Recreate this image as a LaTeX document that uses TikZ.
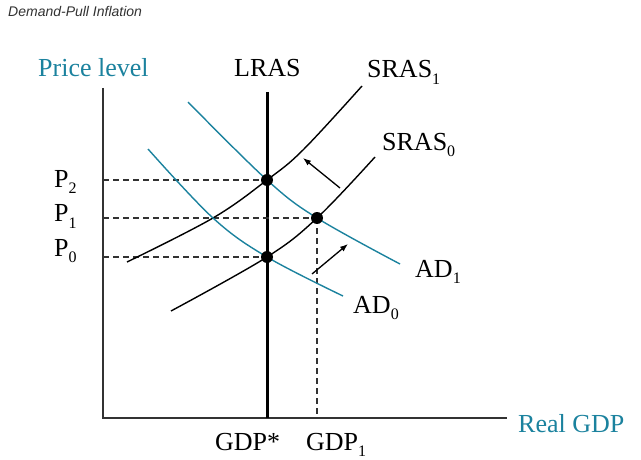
\documentclass[tikz,border=0pt]{standalone}
\usepackage{fontspec}
\setmainfont{Liberation Serif}
\newfontfamily\titlefont{Liberation Sans}
\usetikzlibrary{arrows.meta}
\definecolor{teal1}{RGB}{27,130,158}
\definecolor{axisgray}{RGB}{50,50,50}
\newcommand{\lsub}[1]{\raisebox{-0.25em}{\fontsize{16}{16}\selectfont #1}}
\tikzset{
  lbl/.style={inner sep=0pt, anchor=base west, font=\fontsize{26}{26}\selectfont},
  tlbl/.style={lbl, text=teal1},
  axisline/.style={line width=1.8pt, draw=axisgray},
  srascurve/.style={line width=1.4pt, black},
  adcurve/.style={line width=1.4pt, teal1},
  guide/.style={line width=1.2pt, draw=axisgray, dash pattern=on 6pt off 4pt},
  dotnode/.style={circle, fill=black, inner sep=0pt, minimum size=12pt},
  shiftarrow/.style={line width=1.3pt, -{Latex[length=8pt,width=6pt]}}
}
\begin{document}
\begin{tikzpicture}[x=1pt,y=-1pt]
\useasboundingbox (0,0) rectangle (641,460);
% title
\node[inner sep=0pt, anchor=base west, font=\titlefont\itshape\fontsize{14}{14}\selectfont, text=axisgray] (title) at (8,17) {Demand-Pull Inflation};
% axes
\coordinate (O) at (103,418);
\coordinate (ytop) at (103,88);
\coordinate (xend) at (507,418);
\draw[axisline] (ytop) -- (O) -- (xend);
\node[tlbl] (ylabel) at (38,77) {Price level};
\node[tlbl] (xlabel) at (518,432) {Real GDP};
% LRAS
\coordinate (lrastop) at (267,92);
\coordinate (lrasbot) at (267,418);
\draw[line width=3pt] (lrastop) -- (lrasbot);
\node[lbl] (lraslabel) at (234,77) {LRAS};
% equilibrium points
\coordinate (E2) at (267,180);
\coordinate (E1) at (317,218);
\coordinate (E0) at (267,257);
\coordinate (G1) at (317,418);
% guides
\coordinate (y2) at (103,180);
\coordinate (y1) at (103,218);
\coordinate (y0) at (103,257);
\draw[guide] (y2) -- (E2);
\draw[guide] (y1) -- (E1);
\draw[guide] (y0) -- (E0);
\draw[guide] (E1) -- (G1);
% SRAS curves
\draw[srascurve] plot[smooth, tension=0.6] coordinates {(127,262) (213,218) (E2) (303,150) (362,86)};
\draw[srascurve] plot[smooth, tension=0.6] coordinates {(171,311) (E0) (E1) (375,157)};
% AD curves
\draw[adcurve] plot[smooth, tension=0.6] coordinates {(188,102) (E2) (E1) (400,264)};
\draw[adcurve] plot[smooth, tension=0.6] coordinates {(148,149) (213,218) (E0) (343,296)};
% dots
\node[dotnode] (d2) at (E2) {};
\node[dotnode] (d1) at (E1) {};
\node[dotnode] (d0) at (E0) {};
% curve labels
\node[lbl] (sras1) at (367,78) {SRAS\lsub{1}};
\node[lbl] (sras0) at (382,150) {SRAS\lsub{0}};
\node[lbl] (ad1) at (415,277) {AD\lsub{1}};
\node[lbl] (ad0) at (353,313) {AD\lsub{0}};
% price labels
\node[lbl] (p2) at (54,187) {P\lsub{2}};
\node[lbl] (p1) at (54,222) {P\lsub{1}};
\node[lbl] (p0) at (54,256) {P\lsub{0}};
% GDP labels
\node[lbl] (gdpstar) at (215,450) {GDP*};
\node[lbl] (gdp1) at (306,450) {GDP\lsub{1}};
% shift arrows
\coordinate (a1s) at (340,188);
\coordinate (a1e) at (303,158);
\coordinate (a2s) at (312,274);
\coordinate (a2e) at (348,244);
\draw[shiftarrow] (a1s) -- (a1e);
\draw[shiftarrow] (a2s) -- (a2e);
\end{tikzpicture}
\end{document}
